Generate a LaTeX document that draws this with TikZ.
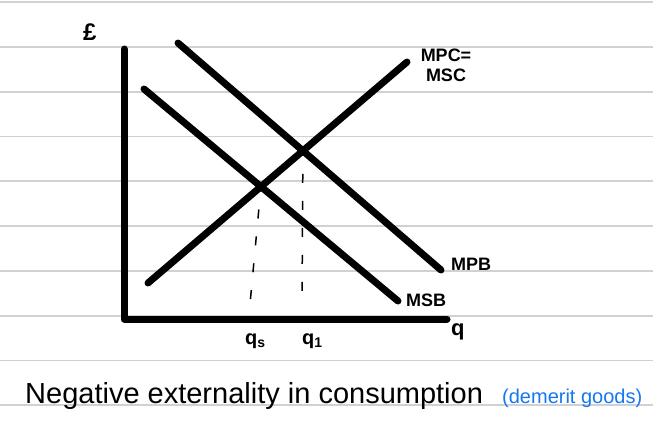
\documentclass[tikz,border=0pt]{standalone}
\usepackage{fontspec}
\setmainfont{Liberation Sans}
\definecolor{penblue}{RGB}{20,120,240}

\begin{document}
\begin{tikzpicture}[x=1pt, y=-1pt,
    ruling/.style={draw=black!18, line width=1.8pt},
    curve/.style={line width=7pt, line cap=round, line join=round},
    guide/.style={line width=1.5pt, dash pattern=on 9pt off 18pt, dash phase=4pt},
    lbl/.style={inner sep=0pt, font=\fontsize{18}{20}\selectfont\bfseries}]
  \useasboundingbox[fill=white] (0,0) rectangle (653,424);
  \foreach \i in {0,...,9}
    \draw[ruling] (0,2+44.8*\i) -- (653,2+44.8*\i);

  \coordinate (origin) at (124,319);
  \coordinate (ytop) at (124,49);
  \coordinate (xend) at (447,319);
  \coordinate (mpc-a) at (148,283);
  \coordinate (mpc-b) at (407,62);
  \coordinate (mpb-a) at (178,43);
  \coordinate (mpb-b) at (441,270);
  \coordinate (msb-a) at (144,89);
  \coordinate (msb-b) at (398,301);
  \coordinate (eq-s) at (intersection of mpc-a--mpc-b and msb-a--msb-b);
  \coordinate (eq-1) at (intersection of mpc-a--mpc-b and mpb-a--mpb-b);
  \coordinate (qs-foot) at (250,304);
  \coordinate (q1-foot) at (302,303);

  \draw[guide] (eq-s) -- (qs-foot);
  \draw[guide] (eq-1) -- (q1-foot);
  \draw[curve] (ytop) -- (origin) -- (xend);
  \draw[curve] (mpc-a) -- (mpc-b);
  \draw[curve] (mpb-a) -- (mpb-b);
  \draw[curve] (msb-a) -- (msb-b);

  \node[lbl, align=center] (mpc-lbl) at (446,65) {MPC=\\MSC};
  \node[lbl] (mpb-lbl) at (471,264) {MPB};
  \node[lbl] (msb-lbl) at (426,300) {MSB};
  \node[lbl, anchor=base west, font=\fontsize{22}{22}\selectfont\bfseries] (q-lbl) at (451,335) {q};
  \node[lbl, anchor=base west, font=\fontsize{20}{20}\selectfont\bfseries] (qs-lbl) at (245,344) {q\textsubscript{s}};
  \node[lbl, anchor=base west, font=\fontsize{20}{20}\selectfont\bfseries] (q1-lbl) at (302,344) {q\textsubscript{1}};
  \node[lbl, anchor=base west, font=\fontsize{24}{24}\selectfont\bfseries] (price-lbl) at (83,40) {£};
  \node[lbl, anchor=base west, font=\fontsize{29}{29}\selectfont] (caption) at (25,403) {Negative externality in consumption};
  \node[lbl, anchor=base west, text=penblue, font=\fontsize{20}{20}\selectfont] (note) at (502,403) {(demerit goods)};
\end{tikzpicture}
\end{document}
